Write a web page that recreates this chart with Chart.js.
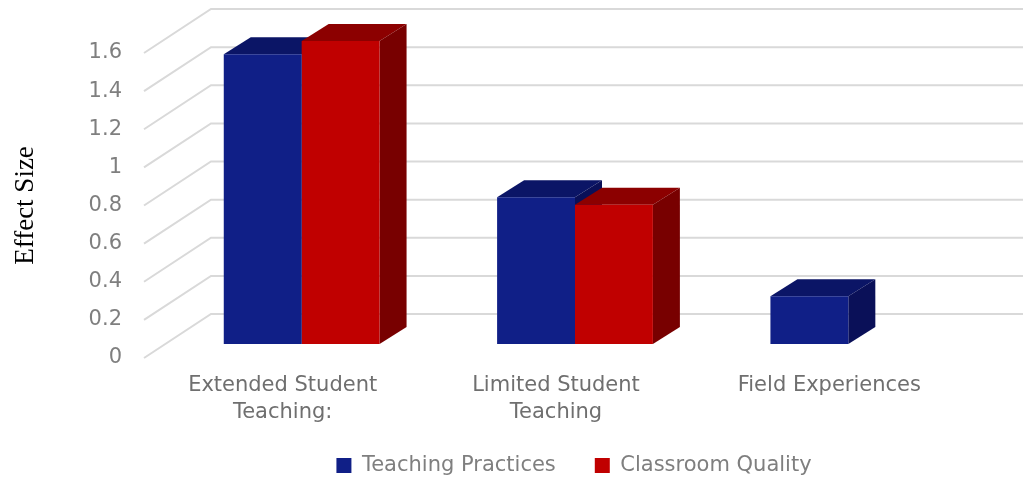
<!DOCTYPE html>
<html>
<head>
<meta charset="utf-8">
<title>Effect Size</title>
<script src="https://cdn.jsdelivr.net/npm/chart.js@4/dist/chart.umd.min.js"></script>
<style>
  html, body { margin: 0; padding: 0; background: #fff; }
  #wrap { width: 1023px; height: 478px; }
</style>
</head>
<body>
<div id="wrap"><canvas id="effectChart"></canvas></div>
<script>
const categories = [['Extended Student', 'Teaching:'], ['Limited Student', 'Teaching'], 'Field Experiences'];
const teachingPractices = [1.52, 0.77, 0.25];
const classroomQuality = [1.59, 0.73, null];
const yTicks = ['0', '0.2', '0.4', '0.6', '0.8', '1', '1.2', '1.4', '1.6'];

// front, top and side colours of the boxes
const blueFaces = ['#101f87', '#0b1566', '#0a1058'];
const redFaces = ['#c00000', '#8c0000', '#780000'];

// oblique offsets in pixels
const wall = { dx: 67, dy: -44 };
const floorShift = { dx: 19, dy: -14 };
const box = { dx: 27, dy: -17 };

function face(ctx, color, pts) {
    ctx.fillStyle = color;
    ctx.beginPath();
    pts.forEach((p, i) => i ? ctx.lineTo(p[0], p[1]) : ctx.moveTo(p[0], p[1]));
    ctx.closePath();
    ctx.fill();
}

const oblique = {
    id: 'oblique',
    afterLayout(chart) {
        // legend sits under the bars, not under the page centre
        chart.legend.left += 91;
        chart.legend.right += 91;
        chart.legend.top -= 16;
        chart.legend.bottom -= 16;
    },
    beforeDatasetsDraw(chart) {
        const ctx = chart.ctx;
        const y = chart.scales.y;
        const left = chart.chartArea.left - 2;

        // grid lines: across the side wall, then along the back wall
        ctx.save();
        ctx.strokeStyle = '#d9d9d9';
        ctx.lineWidth = 2;
        y.ticks.forEach(t => {
            const py = y.getPixelForValue(t.value);
            ctx.beginPath();
            ctx.moveTo(left, py);
            ctx.lineTo(left + wall.dx, py + wall.dy);
            ctx.lineTo(chart.width, py + wall.dy);
            ctx.stroke();
        });
        ctx.restore();

        ctx.save();
        ctx.translate(floorShift.dx, floorShift.dy);

        // top and side of each box, per category so red overlaps blue
        const faces = [blueFaces, redFaces];
        categories.forEach((c, i) => {
            chart.data.datasets.forEach((ds, d) => {
                if (ds.data[i] == null) return;
                const bar = chart.getDatasetMeta(d).data[i];
                const l = bar.x - bar.width / 2;
                const r = bar.x + bar.width / 2;
                face(ctx, faces[d][1], [[l, bar.y], [l + box.dx, bar.y + box.dy], [r + box.dx, bar.y + box.dy], [r, bar.y]]);
                face(ctx, faces[d][2], [[r, bar.y], [r + box.dx, bar.y + box.dy], [r + box.dx, bar.base + box.dy], [r, bar.base]]);
            });
        });
    },
    afterDatasetsDraw(chart) {
        chart.ctx.restore();
    }
};

const tickColor = '#7f7f7f';
const tickFont = { family: '"DejaVu Sans"', size: 21 };

new Chart(document.getElementById('effectChart').getContext('2d'), {
    type: 'bar',
    data: {
        labels: categories,
        datasets: [
            { label: 'Teaching Practices', data: teachingPractices, backgroundColor: blueFaces[0] },
            { label: 'Classroom Quality', data: classroomQuality, backgroundColor: redFaces[0] }
        ]
    },
    options: {
        responsive: true,
        maintainAspectRatio: false,
        animation: false,
        layout: { padding: { top: 53, right: 57, bottom: -24, left: 0 } },
        datasets: { bar: { categoryPercentage: 0.57, barPercentage: 1 } },
        scales: {
            x: {
                grid: { display: false, drawTicks: false },
                border: { display: false },
                ticks: {
                    color: '#6f6f6f',
                    font: { family: '"DejaVu Sans"', size: 21, lineHeight: 1.29 },
                    padding: 14,
                    maxRotation: 0,
                    autoSkip: false
                },
                afterFit: s => { s.height = 74; }
            },
            y: {
                min: 0,
                max: 1.6,
                grid: { display: false, drawTicks: false },
                border: { display: false },
                ticks: {
                    stepSize: 0.2,
                    color: tickColor,
                    font: tickFont,
                    padding: 24,
                    callback: (v, i) => yTicks[i]
                },
                title: {
                    display: true,
                    text: 'Effect Size',
                    color: '#000',
                    font: { family: '"Liberation Serif"', size: 27 },
                    padding: { top: 10, bottom: 0 }
                },
                afterFit: s => { s.width = 146; }
            }
        },
        plugins: {
            tooltip: { enabled: false },
            legend: {
                position: 'bottom',
                labels: {
                    color: tickColor,
                    font: tickFont,
                    boxWidth: 15,
                    boxHeight: 15,
                    padding: 39
                }
            }
        }
    },
    plugins: [oblique]
});
</script>
</body>
</html>
